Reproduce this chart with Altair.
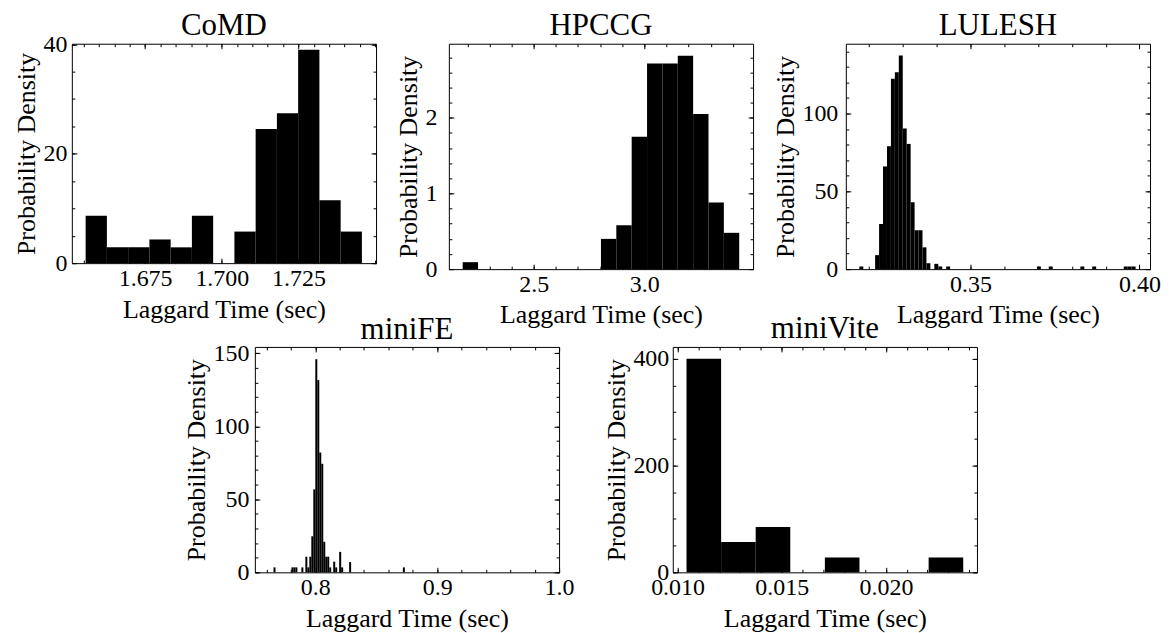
import altair as alt
import pandas as pd

FONT = "Liberation Serif"

# ---------------- data ----------------
# CoMD
comd_start = 1.6556
comd_width = 0.00693
comd_bins = [0, 1, 2, 3, 4, 5, 7, 8, 9, 10, 11, 12]
comd_density = [8.66, 2.89, 2.89, 4.33, 2.89, 8.66, 5.77, 24.5, 27.4, 39.0, 11.5, 5.77]

# HPCCG
hpccg_start = 2.179
hpccg_width = 0.06944
hpccg_bins = [0, 9, 10, 11, 12, 13, 14, 15, 16, 17]
hpccg_density = [0.092, 0.40, 0.58, 1.75, 2.72, 2.72, 2.82, 2.05, 0.88, 0.48]

# LULESH
lulesh_start = 0.3171
lulesh_width = 0.0011676
lulesh_bins = [0, 4, 5, 6, 7, 8, 9, 10, 11, 12, 13, 14, 15, 16, 17, 19, 20, 22,
               45, 48, 56, 59, 67, 68, 69]
lulesh_density = [1.7, 9.0, 29, 66, 79, 122.4, 126.5, 137.4, 90.4, 80.5, 43, 25, 25, 14, 3.8,
                  3.4, 1.7, 1.7, 1.7, 1.7, 1.7, 1.7, 1.7, 1.7, 1.7]

# miniFE
minife_start = 0.76571
minife_width = 0.0016327
minife_bins = [0, 9, 10, 11, 14, 16, 17, 18, 19, 20, 21, 22, 23, 24, 25, 26, 27, 28,
               30, 31, 33, 34, 38, 65]
minife_density = [3.4, 3.4, 3.4, 3.4, 3.4, 10.7, 3.4, 10.7, 24.7, 56.8, 145.9, 131.6, 82, 74.3,
                  20.9, 10.7, 10.7, 3.4, 7.3, 3.4, 14, 3.4, 7, 3.4]

# miniVite
minivite_start = 0.01043
minivite_width = 0.00166
minivite_bins = [0, 1, 2, 4, 7]
minivite_density = [400, 57, 85, 28, 28]

# axis tick marks (major labelled ticks; minor ticks are generated between them)
comd_xmajor = [1.675, 1.700, 1.725]
comd_ymajor = [0, 20, 40]
hpccg_xmajor = [2.5, 3.0]
hpccg_ymajor = [0, 1, 2]
lulesh_xmajor = [0.35, 0.40]
lulesh_ymajor = [0, 50, 100]
minife_xmajor = [0.8, 0.9, 1.0]
minife_ymajor = [0, 50, 100, 150]
minivite_xmajor = [0.010, 0.015, 0.020]
minivite_ymajor = [0, 200, 400]


def minor(lo, hi, step):
    out = []
    k = int(round(lo / step)) - 1
    while k * step <= hi + 1e-12:
        v = round(k * step, 6)
        if lo - 1e-12 <= v <= hi + 1e-12:
            out.append(v)
        k += 1
    return out


def panel(title, start, width, bins, dens, xdom, ydom, xmaj, xstep, ymaj, ystep,
          xfmt, h, ylabpad, toffset):
    df = pd.DataFrame({
        "x0": [start + i * width for i in bins],
        "x1": [start + (i + 1) * width for i in bins],
        "d": dens,
        "z": [0] * len(bins),
    })
    xs = alt.Scale(domain=xdom, nice=False, zero=False)
    ys = alt.Scale(domain=ydom, nice=False, zero=False)
    base = alt.Chart(df)
    bars = base.mark_rect(color="black").encode(
        x=alt.X("x0:Q", scale=xs, axis=alt.Axis(
            values=xmaj, format=xfmt, ticks=False, domain=False, grid=False,
            title="Laggard Time (sec)", labelPadding=3, titlePadding=6,
            labelFlush=False, labelOverlap=False)),
        x2="x1:Q",
        y=alt.Y("d:Q", scale=ys, axis=alt.Axis(
            values=ymaj, format="d", ticks=False, domain=False, grid=False,
            title="Probability Density", labelPadding=ylabpad, titlePadding=3,
            labelOverlap=False)),
        y2="z:Q",
    )
    xmin_t = minor(xdom[0], xdom[1], xstep)
    ymin_t = minor(ydom[0], ydom[1], ystep)

    def tick_layer(xo, yo, xv, yv, size):
        return base.mark_point(opacity=0).encode(
            x=alt.X("x0:Q", scale=xs, axis=alt.Axis(
                orient=xo, values=xv, labels=False, domain=False, grid=False,
                title=None, ticks=True, tickSize=size, offset=-size,
                tickColor="black", tickWidth=1)),
            y=alt.Y("d:Q", scale=ys, axis=alt.Axis(
                orient=yo, values=yv, labels=False, domain=False, grid=False,
                title=None, ticks=True, tickSize=size, offset=-size,
                tickColor="black", tickWidth=1)),
        )

    layers = [
        bars,
        tick_layer("bottom", "left", xmaj, ymaj, 5),
        tick_layer("bottom", "left", xmin_t, ymin_t, 3),
        tick_layer("top", "right", xmaj, ymaj, 5),
        tick_layer("top", "right", xmin_t, ymin_t, 3),
    ]
    return alt.layer(*layers).resolve_axis(x="independent", y="independent").properties(
        width=305, height=h,
        title=alt.TitleParams(text=title, font=FONT, fontSize=31, fontWeight="normal",
                              offset=toffset, anchor="middle", frame="group", color="black"),
    )


comd = panel("CoMD", comd_start, comd_width, comd_bins, comd_density,
             [1.6511, 1.7503], [0, 40.1], comd_xmajor, 0.005, comd_ymajor, 5, ".3f", 220, 5, -10)
hpccg = panel("HPCCG", hpccg_start, hpccg_width, hpccg_bins, hpccg_density,
              [2.1165, 3.4915], [0, 2.98], hpccg_xmajor, 0.1, hpccg_ymajor, 0.2, ".1f", 226, 12, 1)
lulesh = panel("LULESH", lulesh_start, lulesh_width, lulesh_bins, lulesh_density,
               [0.3131, 0.4031], [0, 144.9], lulesh_xmajor, 0.01, lulesh_ymajor, 10, ".2f", 226, 8, 1)
minife = panel("miniFE", minife_start, minife_width, minife_bins, minife_density,
               [0.7504, 1.0], [0, 154.3], minife_xmajor, 0.02, minife_ymajor, 10, ".1f", 226, 6, -5)
minivite = panel("miniVite", minivite_start, minivite_width, minivite_bins, minivite_density,
                 [0.00977, 0.02437], [0, 422], minivite_xmajor, 0.001, minivite_ymajor, 50, ".3f", 226, 4, 1)

top = alt.hconcat(comd, hpccg, lulesh, spacing=18)
bottom = alt.hconcat(minife, minivite, spacing=28)
chart = alt.vconcat(top, bottom, spacing=-16, center=True).properties(
    padding={"left": 5, "top": 1, "right": 0, "bottom": 0}
).configure_axis(
    labelFont=FONT, titleFont=FONT, labelFontSize=24, titleFontSize=26,
    titleFontWeight="normal", labelColor="black", titleColor="black", minExtent=0,
).configure_view(stroke="black", strokeWidth=1).configure_title(font=FONT)

chart.save("out.html", embed_options={"renderer": "svg", "actions": False})
